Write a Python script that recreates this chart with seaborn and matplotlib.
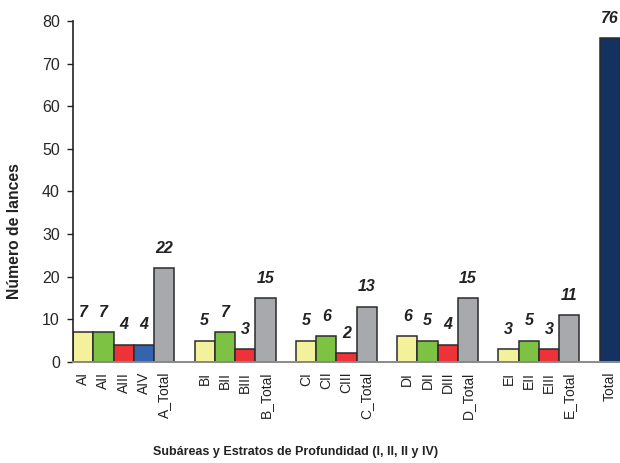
import matplotlib
matplotlib.use("Agg")
import matplotlib.pyplot as plt
import seaborn as sns
import pandas as pd

# Hauls per sub-area and depth stratum
categories = ["AI", "AII", "AIII", "AIV", "A_Total",
              "BI", "BII", "BIII", "B_Total",
              "CI", "CII", "CIII", "C_Total",
              "DI", "DII", "DIII", "D_Total",
              "EI", "EII", "EIII", "E_Total",
              "Total"]
strata = ["I", "II", "III", "IV", "Sub",
          "I", "II", "III", "Sub",
          "I", "II", "III", "Sub",
          "I", "II", "III", "Sub",
          "I", "II", "III", "Sub",
          "All"]
lances = [7, 7, 4, 4, 22,
          5, 7, 3, 15,
          5, 6, 2, 13,
          6, 5, 4, 15,
          3, 5, 3, 11,
          76]

# slot order with empty separators between sub-areas
order = ["AI", "AII", "AIII", "AIV", "A_Total", "_g1",
         "BI", "BII", "BIII", "B_Total", "_g2",
         "CI", "CII", "CIII", "C_Total", "_g3",
         "DI", "DII", "DIII", "D_Total", "_g4",
         "EI", "EII", "EIII", "E_Total", "_g5",
         "Total"]

colors = {"I": "#F4F19C", "II": "#7DC242", "III": "#EE3338",
          "IV": "#3563AE", "Sub": "#A7A9AC", "All": "#13325F"}

df = pd.DataFrame({"cat": categories, "estrato": strata, "n": lances})

sns.set_style("white")
plt.rcParams["font.family"] = ["Liberation Sans", "DejaVu Sans"]

fig = plt.figure(figsize=(6.2, 4.63), dpi=100)
ax = fig.add_axes([73 / 620, 101 / 463, 547 / 620, 341 / 463])

sns.barplot(data=df, x="cat", y="n", hue="estrato", order=order,
            palette=colors, dodge=False, width=1.0, legend=False,
            saturation=1, edgecolor="#2b2b2b", linewidth=1.1, ax=ax)

ax.set_xlim(-0.5, len(order) - 0.5)
ax.set_ylim(0, 80)
ax.set_yticks(range(0, 81, 10))
ax.tick_params(axis="y", length=4.5, width=1, color="#222222",
               labelsize=11.5, pad=5, direction="out", left=True)
ax.tick_params(axis="x", length=0, pad=7)

labels = ["" if o.startswith("_g") else o for o in order]
ax.set_xticks(range(len(order)))
ax.set_xticklabels(labels, rotation=90, fontsize=10, va="top", ha="center",
                   color="#222222")
ax.set_xlabel("")

for s in ["top", "right"]:
    ax.spines[s].set_visible(False)
ax.spines["left"].set_color("#222222")
ax.spines["left"].set_linewidth(1.2)
ax.spines["bottom"].set_color("#8a8a8a")
ax.spines["bottom"].set_linewidth(1.4)

# value labels above each bar
for pos, name in enumerate(order):
    if name in categories:
        v = lances[categories.index(name)]
        ax.annotate(f"{v}", (pos, v), xytext=(0, 9), textcoords="offset points",
                    ha="center", va="bottom", fontsize=11.5,
                    fontweight="bold", fontstyle="italic", color="#222222",
                    annotation_clip=False)

ax.set_ylabel("Número de lances", fontsize=11.3, fontweight="bold",
              color="#222222")
ax.yaxis.set_label_coords(-0.093, 0.385)
fig.text(296 / 620, 1 - 452 / 463, "Subáreas y Estratos de Profundidad (I, II, II y IV)",
         ha="center", va="center", fontsize=9, fontweight="bold",
         color="#222222")

fig.savefig("out.png", dpi=100)
